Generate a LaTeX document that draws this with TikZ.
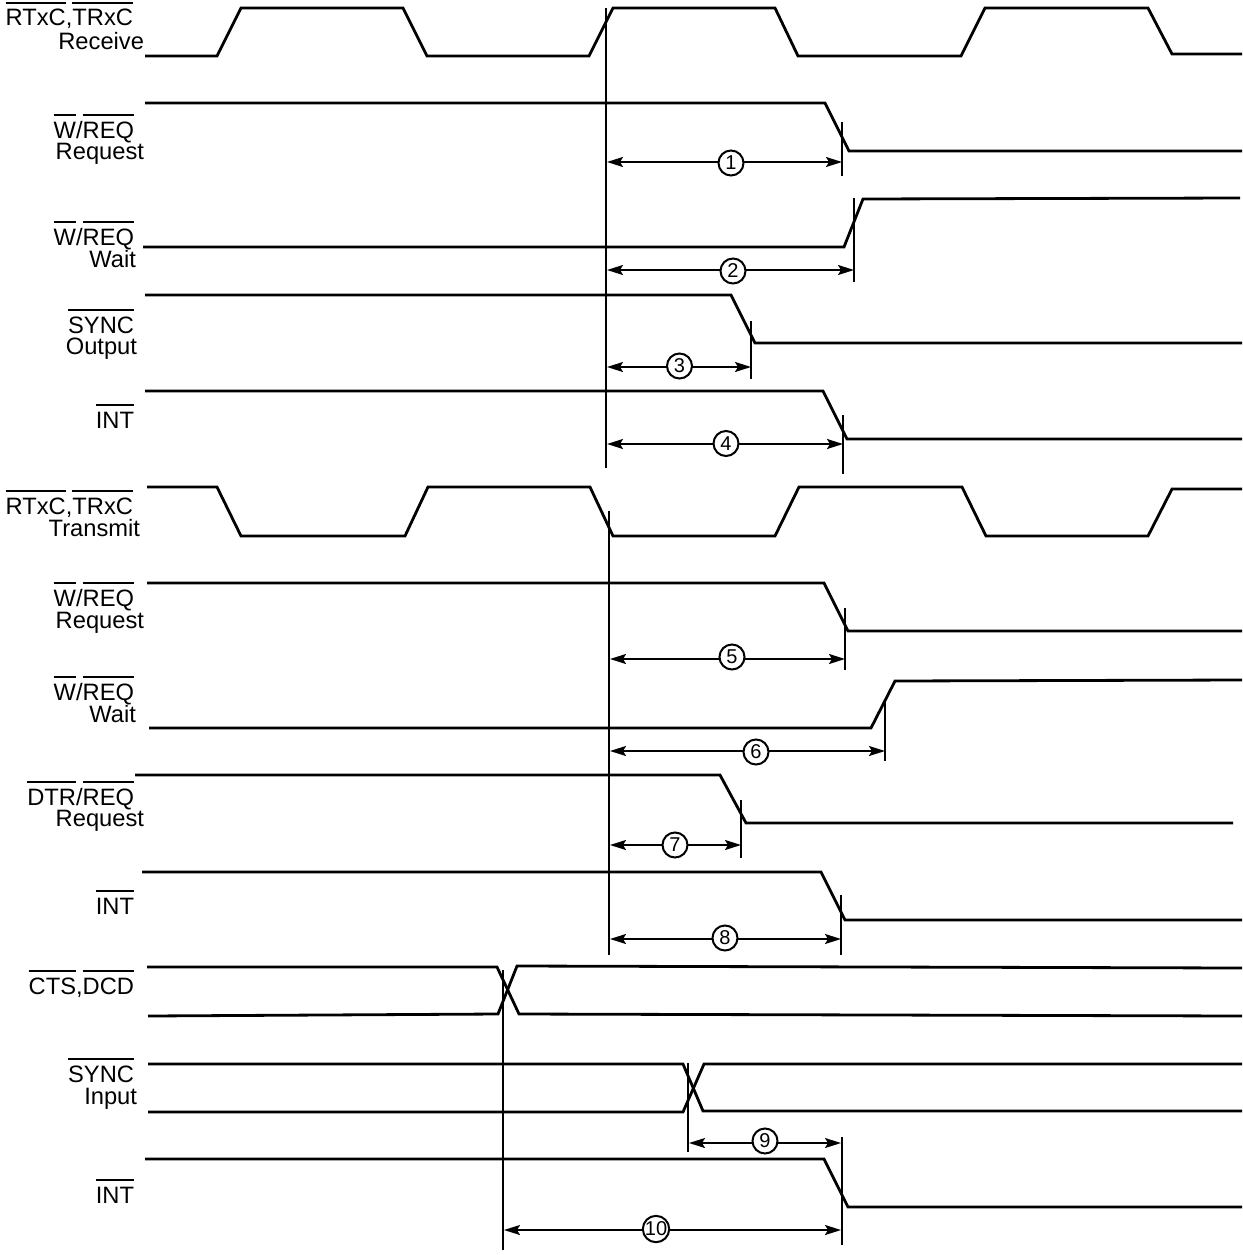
\documentclass[tikz,border=0pt]{standalone}
\usepackage{fontspec}
\setmainfont{Liberation Sans}
\usetikzlibrary{arrows.meta}
\newcommand\ovl[1]{\setbox0\hbox{#1}\rlap{\raise 22pt\hbox{\rule{\wd0}{1.6pt}}}\box0}
\tikzset{
  wave/.style={line width=2.8pt,line join=miter,black},
  guide/.style={line width=2pt,black},
  span/.style={line width=1.8pt,black,{Stealth[length=16pt,width=10pt,inset=3pt]}-{Stealth[length=16pt,width=10pt,inset=3pt]}},
  lab/.style={anchor=base east,inner sep=0pt,outer sep=0pt,font=\fontsize{23.7}{24}\selectfont},
  num/.style={circle,draw=black,line width=2pt,fill=white,minimum size=25pt,inner sep=0pt,font=\fontsize{20}{20}\selectfont}
}
\begin{document}
\begin{tikzpicture}[x=1pt,y=-1pt]
\useasboundingbox (0,0) rectangle (1242,1255);
% waveforms
\draw[wave] (145,56)--(217,56)--(241,8)--(403,8)--(427,56)--(589,56)--(613,8)--(775,8)--(798,56)--(961,56)--(985,8)--(1148,8)--(1172,54)--(1242,54);
\draw[wave] (145,103)--(825,103)--(849,151)--(1242,151);
\draw[wave] (143,247)--(844,247)--(863,199)--(1240,198);
\draw[wave] (145,295)--(731,295)--(755,343)--(1242,343);
\draw[wave] (145,391)--(823,391)--(847,439)--(1242,439);
\draw[wave] (147,487)--(217,487)--(241,536)--(405,536)--(428,487)--(590,487)--(613,536)--(775,536)--(799,487)--(962,487)--(986,536)--(1148,536)--(1172,489)--(1242,489);
\draw[wave] (147,583)--(824,583)--(848,631)--(1242,631);
\draw[wave] (149,728)--(871,728)--(895,681)--(1242,680);
\draw[wave] (135,775)--(720,775)--(746,823)--(1233,823);
\draw[wave] (142,872)--(821,872)--(845,920)--(1242,920);
\draw[wave] (147,967)--(497,967)--(519,1014)--(1242,1016);
\draw[wave] (148,1016)--(498,1014)--(517,966)--(1242,968);
\draw[wave] (148,1064)--(683,1064)--(703,1111)--(1242,1111);
\draw[wave] (148,1112)--(683,1112)--(704,1064)--(1242,1064);
\draw[wave] (145,1159)--(824,1159)--(848,1207)--(1242,1207);
% reference lines
\draw[guide] (606,8)--(606,468);
\draw[guide] (609,511)--(609,955);
\draw[guide] (503,970)--(503,1250);
\draw[guide] (688,1063)--(688,1152);
\draw[guide] (842,122)--(842,176);
\draw[guide] (854,198)--(854,282);
\draw[guide] (751,321)--(751,379);
\draw[guide] (843,415)--(843,474);
\draw[guide] (845,608)--(845,670);
\draw[guide] (885,700)--(885,761);
\draw[guide] (741,800)--(741,858);
\draw[guide] (841,895)--(841,955);
\draw[guide] (842,1137)--(842,1245);
% spans
\coordinate (a1) at (607,162); \coordinate (b1) at (842,162);
\coordinate (a2) at (607,270); \coordinate (b2) at (854,270);
\coordinate (a3) at (607,367); \coordinate (b3) at (751,367);
\coordinate (a4) at (607,444); \coordinate (b4) at (843,444);
\coordinate (a5) at (610,659); \coordinate (b5) at (845,659);
\coordinate (a6) at (610,751); \coordinate (b6) at (885,751);
\coordinate (a7) at (610,845); \coordinate (b7) at (741,845);
\coordinate (a8) at (610,939); \coordinate (b8) at (841,939);
\coordinate (a9) at (689,1143); \coordinate (b9) at (841,1143);
\coordinate (a10) at (504,1230); \coordinate (b10) at (841,1230);
\foreach \i in {1,...,10} {\draw[span] (a\i)--(b\i);}
\node[num] (n1) at (731,163) {1};
\node[num] (n2) at (733,271) {2};
\node[num] (n3) at (679.5,366) {3};
\node[num] (n4) at (726,443.5) {4};
\node[num] (n5) at (732,657) {5};
\node[num] (n6) at (756,752) {6};
\node[num] (n7) at (675,845) {7};
\node[num] (n8) at (725,938) {8};
\node[num] (n9) at (765,1141) {9};
\node[num] (n10) at (656,1229) {10};
% labels
\node[lab] (l1) at (133,26) {\ovl{RTxC},\ovl{TRxC}};
\node[lab] (l1b) at (144,49) {Receive};
\node[lab] (l2) at (134,138) {\ovl{W}/\ovl{REQ}};
\node[lab] (l2b) at (144,159) {Request};
\node[lab] (l3) at (134,245) {\ovl{W}/\ovl{REQ}};
\node[lab] (l3b) at (136,267) {Wait};
\node[lab] (l4) at (134,333) {\ovl{SYNC}};
\node[lab] (l4b) at (137,354) {Output};
\node[lab] (l5) at (134,428) {\ovl{INT}};
\node[lab] (l6) at (133,514) {\ovl{RTxC},\ovl{TRxC}};
\node[lab] (l6b) at (140,536) {Transmit};
\node[lab] (l7) at (134,606) {\ovl{W}/\ovl{REQ}};
\node[lab] (l7b) at (144,628) {Request};
\node[lab] (l8) at (134,700) {\ovl{W}/\ovl{REQ}};
\node[lab] (l8b) at (136,722) {Wait};
\node[lab] (l9) at (134,805) {\ovl{DTR}/\ovl{REQ}};
\node[lab] (l9b) at (144,826) {Request};
\node[lab] (l10) at (134,914) {\ovl{INT}};
\node[lab] (l11) at (134,994) {\ovl{CTS},\ovl{DCD}};
\node[lab] (l12) at (134,1082) {\ovl{SYNC}};
\node[lab] (l12b) at (137,1104) {Input};
\node[lab] (l13) at (134,1203) {\ovl{INT}};
\end{tikzpicture}
\end{document}
